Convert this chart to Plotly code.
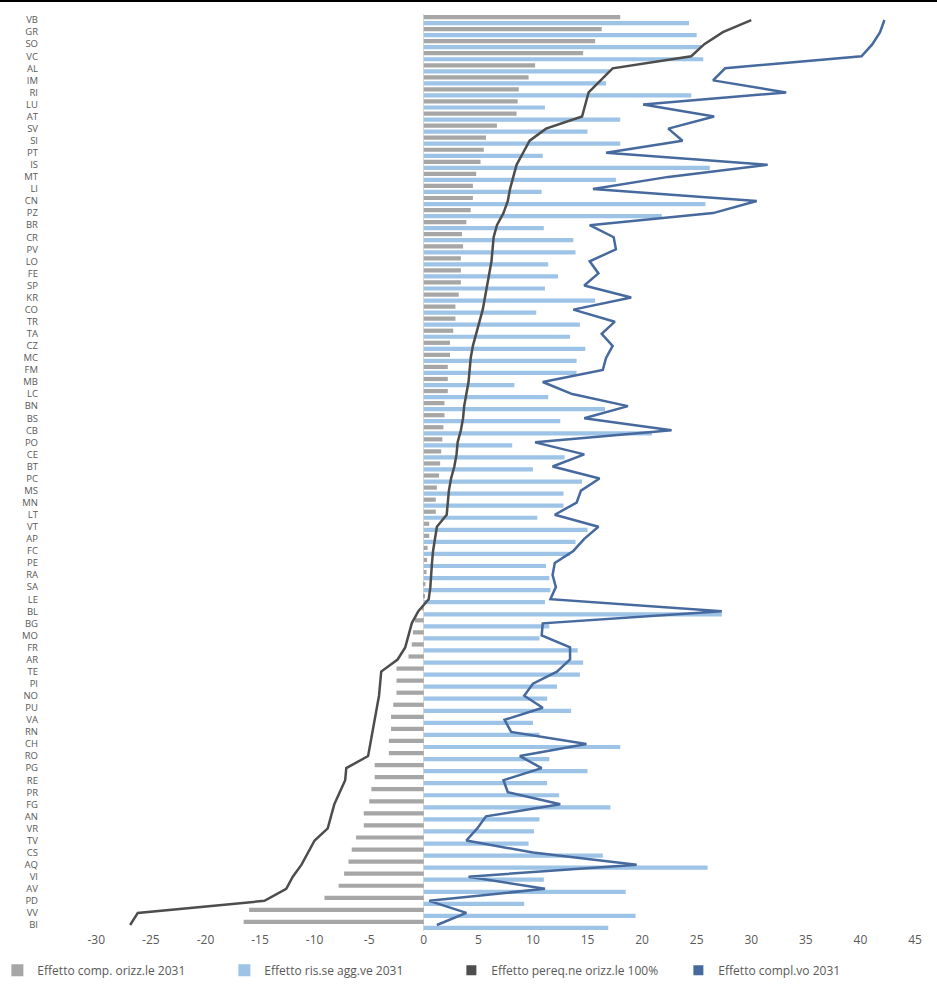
import plotly.graph_objects as go

categories = ["VB", "GR", "SO", "VC", "AL", "IM", "RI", "LU", "AT", "SV", "SI", "PT", "IS", "MT",
              "LI", "CN", "PZ", "BR", "CR", "PV", "LO", "FE", "SP", "KR", "CO", "TR", "TA", "CZ",
              "MC", "FM", "MB", "LC", "BN", "BS", "CB", "PO", "CE", "BT", "PC", "MS", "MN", "LT",
              "VT", "AP", "FC", "PE", "RA", "SA", "LE", "BL", "BG", "MO", "FR", "AR", "TE", "PI",
              "NO", "PU", "VA", "RN", "CH", "RO", "PG", "RE", "PR", "FG", "AN", "VR", "TV", "CS",
              "AQ", "VI", "AV", "PD", "VV", "BI"]

comp_orizz_2031 = [18.0, 16.3, 15.7, 14.6, 10.2, 9.6, 8.7, 8.6, 8.5, 6.7, 5.7, 5.5, 5.2, 4.8,
                   4.5, 4.5, 4.3, 3.9, 3.5, 3.6, 3.4, 3.4, 3.4, 3.2, 2.9, 2.9, 2.7, 2.4,
                   2.4, 2.2, 2.2, 2.2, 1.9, 1.9, 1.8, 1.7, 1.6, 1.5, 1.4, 1.2, 1.1, 1.1,
                   0.5, 0.5, 0.35, 0.3, 0.25, 0.15, 0.1, -0.2, -0.8, -1.0, -1.1, -1.4, -2.5, -2.5,
                   -2.5, -2.8, -3.0, -3.0, -3.2, -3.2, -4.5, -4.5, -4.8, -5.0, -5.5, -5.5, -6.2, -6.6,
                   -6.9, -7.3, -7.8, -9.1, -16.0, -16.5]

ris_agg_2031 = [24.3, 25.0, 25.4, 25.6, 17.0, 16.7, 24.5, 11.1, 18.0, 15.0, 18.0, 10.9, 26.2, 17.6,
                10.8, 25.8, 21.8, 11.0, 13.7, 13.9, 11.4, 12.3, 11.1, 15.7, 10.3, 14.3, 13.4, 14.8,
                14.0, 14.0, 8.3, 11.4, 16.6, 12.5, 20.9, 8.1, 12.9, 10.0, 14.5, 12.8, 12.8, 10.4,
                15.0, 13.9, 13.4, 11.2, 11.5, 11.6, 11.1, 27.3, 11.5, 10.6, 14.1, 14.6, 14.3, 12.2,
                11.3, 13.5, 10.0, 10.6, 18.0, 11.5, 15.0, 11.3, 12.4, 17.1, 10.6, 10.1, 9.6, 16.4,
                26.0, 11.0, 18.5, 9.2, 19.4, 16.9]

pereq_orizz_100 = [30.0, 27.4, 25.7, 24.5, 17.3, 16.2, 15.1, 14.8, 14.5, 11.2, 9.7, 9.1, 8.5, 8.2,
                   7.9, 7.7, 7.3, 6.7, 6.4, 6.3, 6.2, 6.0, 5.8, 5.6, 5.4, 5.1, 4.8, 4.5,
                   4.3, 4.2, 4.1, 3.9, 3.7, 3.6, 3.4, 3.1, 3.0, 2.8, 2.5, 2.3, 2.2, 2.1,
                   1.2, 1.0, 0.85, 0.75, 0.7, 0.6, 0.45, -0.5, -1.1, -1.4, -1.7, -2.4, -3.9, -4.0,
                   -4.1, -4.3, -4.5, -4.7, -4.9, -5.1, -7.1, -7.2, -7.7, -8.2, -8.5, -8.8, -10.0, -10.6,
                   -11.2, -12.0, -12.6, -14.6, -26.2, -26.9]

compl_2031 = [42.2, 41.8, 41.1, 40.1, 27.6, 26.5, 33.2, 20.1, 26.6, 22.4, 23.7, 16.7, 31.5, 22.4,
              15.5, 30.5, 26.5, 15.2, 17.4, 17.6, 15.2, 16.0, 14.7, 19.0, 13.7, 17.5, 16.3, 17.3,
              16.7, 16.4, 10.9, 13.6, 18.7, 14.7, 22.7, 10.2, 14.7, 11.8, 16.1, 14.4, 14.0, 12.0,
              16.0, 14.7, 13.7, 12.0, 11.8, 12.1, 11.6, 27.3, 10.9, 10.8, 13.4, 13.4, 12.2, 10.0,
              9.2, 10.9, 7.4, 8.0, 14.9, 8.8, 10.8, 7.3, 7.7, 12.5, 5.7, 4.9, 3.9, 10.0,
              19.5, 4.1, 11.1, 0.5, 3.9, 1.2]

x_ticks = [-30, -25, -20, -15, -10, -5, 0, 5, 10, 15, 20, 25, 30, 35, 40, 45]

names = ["Effetto comp. orizz.le 2031", "Effetto ris.se agg.ve 2031",
         "Effetto pereq.ne orizz.le 100%", "Effetto compl.vo 2031"]
colors = ["#a6a6a6", "#9dc3e6", "#4d4d4d", "#46699e"]

FONT = "Open Sans, Roboto, Liberation Sans, Arial, sans-serif"
TXT = "#595959"

fig = go.Figure()
fig.add_trace(go.Bar(y=categories, x=comp_orizz_2031, orientation="h", name=names[0],
                     marker=dict(color=colors[0], line=dict(width=0))))
fig.add_trace(go.Bar(y=categories, x=ris_agg_2031, orientation="h", name=names[1],
                     marker=dict(color=colors[1], line=dict(width=0))))
fig.add_trace(go.Scatter(y=categories, x=pereq_orizz_100, mode="lines", name=names[2],
                         line=dict(color=colors[2], width=2.5), showlegend=False, legendgroup="p"))
fig.add_trace(go.Scatter(y=categories, x=compl_2031, mode="lines", name=names[3],
                         line=dict(color=colors[3], width=2.5), showlegend=False, legendgroup="c"))
# legend entries with square swatches for the two lines
fig.add_trace(go.Scatter(x=[None], y=[None], mode="markers", name=names[2], legendgroup="p",
                         marker=dict(symbol="square", size=10, color=colors[2])))
fig.add_trace(go.Scatter(x=[None], y=[None], mode="markers", name=names[3], legendgroup="c",
                         marker=dict(symbol="square", size=10, color=colors[3])))

fig.update_layout(
    width=937, height=984,
    margin=dict(l=45, r=10, t=14, b=53, autoexpand=False),
    paper_bgcolor="white", plot_bgcolor="white",
    barmode="group", bargap=0.0, bargroupgap=0.3,
    font=dict(family=FONT, color=TXT, size=12),
    showlegend=True,
    legend=dict(orientation="h", x=-0.054, xanchor="left", y=-0.027, yanchor="top",
                entrywidth=182, entrywidthmode="pixels",
                font=dict(family=FONT, size=12, color=TXT), bgcolor="rgba(0,0,0,0)"),
    xaxis=dict(range=[-34.7, 46.1], tickmode="array", tickvals=x_ticks,
               ticktext=[str(v) for v in x_ticks], showgrid=False, showline=False,
               zeroline=True, zerolinecolor="#d9d9d9", zerolinewidth=1,
               tickfont=dict(family=FONT, size=12, color=TXT), ticks=""),
    yaxis=dict(type="category", range=[len(categories) - 0.5, -0.5], showgrid=False,
               showline=False, zeroline=False, ticks="", ticklabelstandoff=6,
               tickmode="array", tickvals=categories, ticktext=categories,
               tickfont=dict(family=FONT, size=9.5, color=TXT)),
    shapes=[dict(type="line", xref="paper", yref="paper", x0=-0.06, x1=1.02,
                 y0=1.0142, y1=1.0142, line=dict(color="black", width=2))],
)

fig.write_html("out.html", config={"displayModeBar": False},
               post_script="document.body.style.margin='0px';")
